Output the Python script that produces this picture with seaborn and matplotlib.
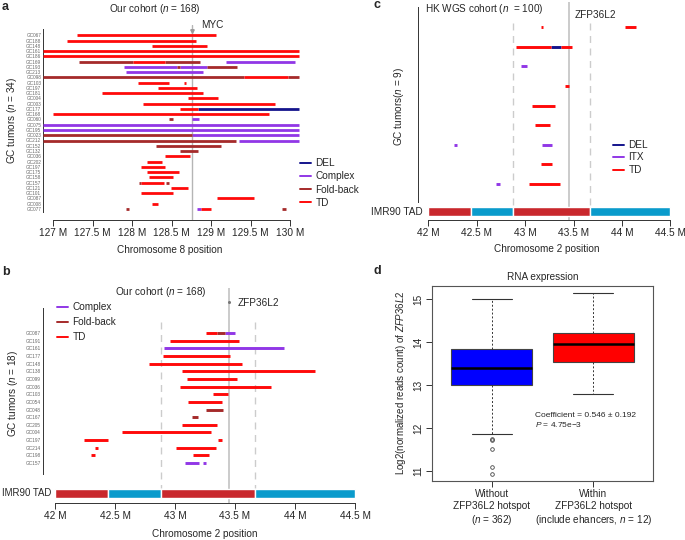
import numpy as np
import pandas as pd
import matplotlib
matplotlib.use("Agg")
import matplotlib.pyplot as plt
from matplotlib.lines import Line2D
import seaborn as sns

W, H = 685, 540

# ---- colours ----
sv_colors = {"DEL": "#14148C", "Complex": "#9137E6", "ITX": "#9137E6",
             "Fold-back": "#A52A2A", "TD": "#FF0A0A"}
tad_colors = {"A": "#C9282D", "B": "#0A9BCC"}

# ---- panel a: chr8 around MYC, our cohort ----
myc_pos = 128.75
a_tumors = ["GC067", "GC188", "GC148", "GC161", "GC186", "GC169", "GC193", "GC213",
            "GC098", "GC103", "GC197", "GC181", "GC004", "GC003", "GC177", "GC168",
            "GC060", "GC075", "GC195", "GC023", "GC212", "GC152", "GC132", "GC036",
            "GC202", "GC197", "GC175", "GC158", "GC157", "GC121", "GC101", "GC087",
            "GC008", "GC077"]
a_segments = [
    [(127.30, 129.06, "TD")],
    [(127.17, 128.80, "TD")],
    [(128.25, 128.94, "TD")],
    [(126.87, 130.11, "TD")],
    [(126.87, 130.11, "TD")],
    [(127.32, 128.01, "Fold-back"), (128.01, 128.42, "TD"), (128.42, 128.86, "Fold-back"), (129.19, 130.06, "Complex")],
    [(127.89, 128.56, "Complex"), (128.56, 128.60, "Fold-back"), (128.60, 128.94, "Complex"), (128.94, 129.33, "Fold-back")],
    [(127.92, 128.90, "Complex")],
    [(126.87, 129.42, "Fold-back"), (129.42, 129.97, "TD"), (129.97, 130.11, "Fold-back")],
    [(128.07, 128.46, "TD"), (128.65, 128.68, "TD")],
    [(128.32, 128.82, "TD")],
    [(127.62, 128.90, "TD")],
    [(128.70, 129.08, "TD")],
    [(128.14, 129.81, "TD")],
    [(128.61, 128.83, "TD"), (128.83, 130.11, "DEL")],
    [(127.00, 129.73, "TD")],
    [(128.47, 128.51, "Fold-back"), (128.75, 128.84, "Complex")],
    [(126.87, 130.11, "Complex")],
    [(126.87, 130.11, "Complex")],
    [(126.87, 128.75, "Fold-back"), (128.75, 130.11, "Complex")],
    [(126.87, 129.31, "Fold-back"), (129.35, 130.11, "Complex")],
    [(128.30, 129.12, "Fold-back")],
    [(128.60, 128.83, "Fold-back")],
    [(128.41, 128.73, "TD")],
    [(128.19, 128.37, "TD")],
    [(128.11, 128.41, "TD")],
    [(128.19, 128.59, "TD")],
    [(128.21, 128.52, "TD")],
    [(128.09, 128.11, "Fold-back"), (128.11, 128.40, "TD"), (128.43, 128.46, "Fold-back")],
    [(128.49, 128.70, "TD")],
    [(128.11, 128.51, "TD")],
    [(129.07, 129.54, "TD")],
    [(128.25, 128.32, "TD")],
    [(127.92, 127.96, "Fold-back"), (128.82, 128.87, "Complex"), (128.87, 129.00, "TD"), (129.90, 129.94, "Fold-back")],
]
a_ticks = [127, 127.5, 128, 128.5, 129, 129.5, 130]

# ---- panel b: chr2 around ZFP36L2, our cohort ----
zfp_pos = 43.45
hotspot = [42.88, 43.67]
b_tumors = ["GC087", "GC191", "GC161", "GC177", "GC148", "GC138", "GC099", "GC036",
            "GC103", "GC054", "GC048", "GC167", "GC205", "GC004", "GC197", "GC214",
            "GC198", "GC157"]
b_segments = [
    [(43.26, 43.35, "TD"), (43.35, 43.42, "Fold-back"), (43.42, 43.50, "Complex")],
    [(42.96, 43.53, "TD")],
    [(42.91, 43.91, "Complex")],
    [(42.90, 43.46, "TD")],
    [(42.78, 43.56, "TD")],
    [(43.06, 44.17, "TD")],
    [(43.10, 43.52, "TD")],
    [(43.04, 43.80, "TD")],
    [(43.32, 43.44, "TD")],
    [(43.11, 43.39, "TD")],
    [(43.26, 43.40, "Fold-back")],
    [(43.14, 43.19, "Fold-back")],
    [(43.06, 43.35, "TD")],
    [(42.56, 43.30, "TD")],
    [(42.24, 42.44, "TD"), (43.36, 43.39, "TD")],
    [(42.33, 42.36, "TD"), (43.01, 43.34, "TD")],
    [(42.30, 42.33, "TD"), (43.15, 43.28, "TD")],
    [(43.08, 43.20, "Complex"), (43.23, 43.26, "Complex")],
]
tad_start = [42.0, 42.44, 42.88, 43.67]
tad_end = [42.44, 42.88, 43.67, 44.5]
tad_kind = ["A", "B", "A", "B"]
chr2_ticks = [42, 42.5, 43, 43.5, 44, 44.5]

# ---- panel c: HK WGS cohort ----
c_segments = [
    [(43.16, 43.19, "TD"), (44.03, 44.15, "TD")],
    [(42.91, 43.27, "TD"), (43.27, 43.37, "DEL"), (43.37, 43.48, "TD")],
    [(42.96, 43.02, "ITX")],
    [(43.41, 43.45, "TD")],
    [(43.07, 43.31, "TD")],
    [(43.10, 43.26, "TD")],
    [(42.27, 42.30, "ITX"), (43.17, 43.28, "ITX")],
    [(43.16, 43.28, "TD")],
    [(42.70, 42.74, "ITX"), (43.04, 43.36, "TD")],
]

# ---- panel d: RNA expression ----
d_groups = ["Without\nZFP36L2 hotspot\n($\\it{n}$ = 362)",
            "Within\nZFP36L2 hotspot\n(include ehancers, $\\it{n}$ = 12)"]
d_med = [13.41, 13.96]
d_q1 = [13.00, 13.55]
d_q3 = [13.84, 14.22]
d_whislo = [11.86, 12.79]
d_whishi = [15.02, 15.14]
d_fliers = [[11.74, 11.71, 11.51, 11.10, 10.93], []]
d_fill = ["#0000FF", "#FF0000"]

sns.set_style("ticks")
plt.rcParams["font.family"] = ["Liberation Sans", "DejaVu Sans"]
plt.rcParams["mathtext.fontset"] = "custom"
plt.rcParams["mathtext.rm"] = "Liberation Sans"
plt.rcParams["mathtext.it"] = "Liberation Sans:italic"
plt.rcParams["axes.linewidth"] = 0.7
plt.rcParams["axes.edgecolor"] = "#333333"

fig = plt.figure(figsize=(W / 100, H / 100), dpi=100)


def add_ax(l, t, r, b):
    return fig.add_axes([l / W, 1 - b / H, (r - l) / W, (b - t) / H])


def ftext(x, y, s, **kw):
    kw.setdefault("fontsize", 7)
    kw.setdefault("va", "center")
    fig.text(x / W, 1 - y / H, s, **kw)


def seg_frame(segments):
    rows = []
    for i, segs in enumerate(segments):
        for s, e, t in segs:
            rows.append({"row": i, "start": s, "end": e, "type": t})
    return pd.DataFrame(rows)


def draw_segments(ax, segments, lw):
    df = seg_frame(segments)
    for t, g in df.groupby("type"):
        ax.hlines(g["row"], g["start"], g["end"], colors=sv_colors[t],
                  linewidth=lw, capstyle="butt", zorder=3)


def legend(ax, labels, x, y, spacing):
    handles = [Line2D([], [], color=sv_colors[l], lw=1.4) for l in labels]
    ax.legend(handles, labels, loc="upper left", bbox_to_anchor=(x / W, 1 - y / H),
              bbox_transform=fig.transFigure, frameon=False, fontsize=7.2,
              borderpad=0, borderaxespad=0, handlelength=1.1, handletextpad=0.45,
              labelspacing=spacing)


def chr_axis(ax, ticks):
    ax.set_xticks(ticks)
    ax.set_xticklabels([f"{t:g} M" for t in ticks], fontsize=7.3)
    ax.spines["bottom"].set_bounds(ticks[0], ticks[-1])
    ax.tick_params(axis="x", direction="out", length=4, width=0.7, pad=2, color="#333333")
    sns.despine(ax=ax)


# ================= panel a =================
ax = add_ax(43, 25, 300, 220)
ax.set_xlim(127 + (43 - 53.3) / 79, 127 + (300 - 53.3) / 79)
ax.set_ylim((220 - 35.3) / 5.26, (25 - 35.3) / 5.26)
ax.axvline(myc_pos, color="#B5B5B5", lw=1.0, zorder=1)
ax.plot([myc_pos], [-0.8], marker="v", ms=2.5, color="#999999", zorder=2, clip_on=False)
draw_segments(ax, a_segments, 2.0)
chr_axis(ax, a_ticks)
ax.set_yticks(range(len(a_tumors)))
ax.set_yticklabels(a_tumors, fontsize=3.4, color="#666666")
ax.tick_params(axis="y", length=0, pad=1.2)
ax.spines["left"].set_bounds(-1.14, 33.54)
ax.text(myc_pos + 0.12, -2.0, "MYC", fontsize=7.2, va="center")
legend(ax, ["DEL", "Complex", "Fold-back", "TD"], 300, 158, 0.33)
ftext(155, 9, "Our cohort ($\\it{n}$ = 168)", ha="center", fontsize=7.2)
ftext(170, 250, "Chromosome 8 position", ha="center", fontsize=7.2)
ftext(12, 120, "GC tumors ($\\it{n}$ = 34)", ha="center", rotation=90, fontsize=7.2)
ftext(2, 7, "a", fontsize=9, fontweight="bold")

# ================= panel b =================
ax = add_ax(43, 285, 360, 503)
ax.set_xlim(42 - 12 / 120, 42 + (360 - 55) / 120)
ax.set_ylim((503 - 333) / 7.65, (285 - 333) / 7.65)
ax.vlines(zfp_pos, (288 - 333) / 7.65, (503 - 333) / 7.65, color="#C2C2C2", lw=1.2, zorder=1)
ax.vlines(hotspot, (322 - 333) / 7.65, (488 - 333) / 7.65, color="#CCCCCC", lw=1.0,
          linestyles=(0, (5, 4)), zorder=1)
ax.plot([zfp_pos], [(302 - 333) / 7.65], marker="o", ms=1.2, color="#777777", zorder=2)
draw_segments(ax, b_segments, 2.1)
ax.barh([(493 - 333) / 7.65] * 4, np.subtract(tad_end, tad_start), left=tad_start,
        height=9 / 7.65, color=[tad_colors[k] for k in tad_kind], zorder=2)
chr_axis(ax, chr2_ticks)
ax.set_yticks(range(len(b_tumors)))
ax.set_yticklabels(b_tumors, fontsize=3.4, color="#666666")
ax.tick_params(axis="y", length=0, pad=1.5)
ax.spines["left"].set_bounds((308 - 333) / 7.65, (474 - 333) / 7.65)
ax.text(zfp_pos + 0.075, (303 - 333) / 7.65, "ZFP36L2", fontsize=7.2, va="center")
legend(ax, ["Complex", "Fold-back", "TD"], 57, 302, 0.5)
ftext(161, 292, "Our cohort ($\\it{n}$ = 168)", ha="center", fontsize=7.2)
ftext(205, 534, "Chromosome 2 position", ha="center", fontsize=7.2)
ftext(13, 393, "GC tumors ($\\it{n}$ = 18)", ha="center", rotation=90, fontsize=7.2)
ftext(51, 493, "IMR90 TAD", ha="right", fontsize=6.9)
ftext(2, 272, "b", fontsize=9, fontweight="bold")

# ================= panel c =================
ax = add_ax(418, 0, 680, 220)
ax.set_xlim(42 - 10.3 / 96.8, 42 + (680 - 428.3) / 96.8)
ax.set_ylim((220 - 27.3) / 19.6, (0 - 27.3) / 19.6)
ax.vlines(zfp_pos, (2 - 27.3) / 19.6, (220 - 27.3) / 19.6, color="#C2C2C2", lw=1.2, zorder=1)
ax.vlines(hotspot, (23 - 27.3) / 19.6, (207.7 - 27.3) / 19.6, color="#CCCCCC", lw=1.0,
          linestyles=(0, (5, 4)), zorder=1)
draw_segments(ax, c_segments, 2.1)
ax.barh([(212 - 27.3) / 19.6] * 4, np.subtract(tad_end, tad_start), left=tad_start,
        height=9 / 19.6, color=[tad_colors[k] for k in tad_kind], zorder=2)
chr_axis(ax, chr2_ticks)
ax.set_yticks([])
ax.spines["left"].set_bounds((6.7 - 27.3) / 19.6, (201.7 - 27.3) / 19.6)
ax.text(zfp_pos + 0.065, (15 - 27.3) / 19.6, "ZFP36L2", fontsize=7.2, va="center")
legend(ax, ["DEL", "ITX", "TD"], 613, 140, 0.25)
ftext(425, 9, "HK WGS cohort ($\\it{n}$  = 100)", ha="left", fontsize=7.2)
ftext(547, 249, "Chromosome 2 position", ha="center", fontsize=7.2)
ftext(399, 107, "GC tumors($\\it{n}$ = 9)", ha="center", rotation=90, fontsize=7.2)
ftext(423, 212, "IMR90 TAD", ha="right", fontsize=7.2)
ftext(374, 5, "c", fontsize=9, fontweight="bold")

# ================= panel d =================
ax = add_ax(432, 285.7, 653, 480.7)
stats = []
for i in range(2):
    stats.append({"med": d_med[i], "q1": d_q1[i], "q3": d_q3[i],
                  "whislo": d_whislo[i], "whishi": d_whishi[i],
                  "fliers": d_fliers[i], "label": d_groups[i]})
bp = ax.bxp(stats, positions=[0, 1], widths=0.8, patch_artist=True, showfliers=True,
            boxprops=dict(edgecolor="#444444", lw=0.8),
            medianprops=dict(color="black", lw=1.8),
            whiskerprops=dict(color="#333333", lw=0.7, linestyle=(0, (2, 2))),
            capprops=dict(color="#333333", lw=0.8),
            flierprops=dict(marker="o", ms=2.6, mfc="none", mec="#444444", mew=0.6))
for patch, c in zip(bp["boxes"], d_fill):
    patch.set_facecolor(c)
for cap in bp["caps"]:
    x0, x1 = cap.get_xdata()
    xc = (x0 + x1) / 2
    cap.set_xdata([xc - 0.2, xc + 0.2])
ax.set_xlim(-0.59, 1.59)
ax.set_ylim(10.77, 15.32)
ax.set_yticks([11, 12, 13, 14, 15])
ax.set_yticklabels(["11", "12", "13", "14", "15"], rotation=90, va="center", fontsize=7.2)
ax.set_xticks([0, 1])
ax.set_xticklabels(d_groups, fontsize=7.2, linespacing=1.2)
ax.tick_params(direction="out", length=4, width=0.7, pad=2, color="#333333")
for sp in ax.spines.values():
    sp.set_color("#555555")
    sp.set_linewidth(0.8)
ax.set_title("RNA expression", fontsize=7.2, pad=4)
ax.text(0.43, 12.30, "Coefficient = 0.546 \u00b1 0.192", fontsize=6, va="center")
ax.text(0.43, 12.09, "$\\it{P}$ = 4.75e\u22123", fontsize=6, va="center")
ftext(401, 383, "Log2(normalized reads count) of $\\it{ZFP36L2}$", ha="center", rotation=90)
ftext(373, 271, "d", fontsize=9, fontweight="bold")

fig.savefig("out.png", dpi=100)
